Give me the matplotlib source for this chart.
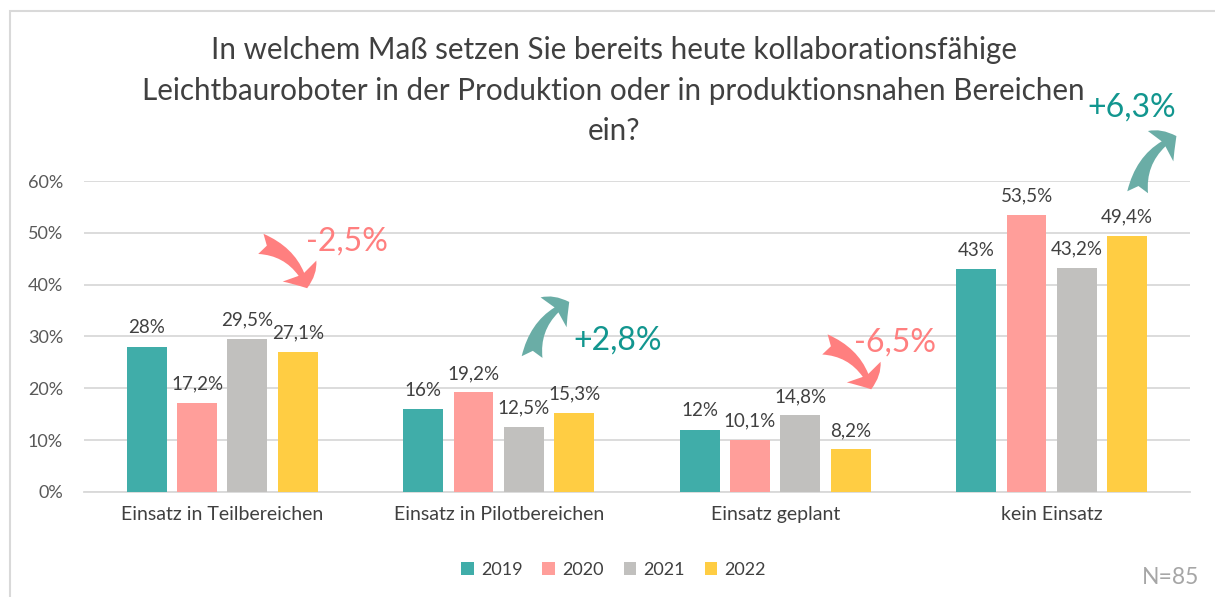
import matplotlib.pyplot as plt
from matplotlib.patches import FancyArrowPatch, Rectangle
import numpy as np

plt.rcParams["font.family"] = ["Lato", "DejaVu Sans"]

categories = ["Einsatz in Teilbereichen", "Einsatz in Pilotbereichen",
              "Einsatz geplant", "kein Einsatz"]
years = ["2019", "2020", "2021", "2022"]
v2019 = [28.0, 16.0, 12.0, 43.0]
v2020 = [17.2, 19.2, 10.1, 53.5]
v2021 = [29.5, 12.5, 14.8, 43.2]
v2022 = [27.1, 15.3, 8.2, 49.4]
series = [v2019, v2020, v2021, v2022]
colors = ["#40ADA9", "#FF9E9A", "#C1C0BE", "#FFCD43"]

# change 2021 -> 2022 per category
changes = ["-2,5%", "+2,8%", "-6,5%", "+6,3%"]

title_lines = ["In welchem Maß setzen Sie bereits heute kollaborationsfähige",
               "Leichtbauroboter in der Produktion oder in produktionsnahen Bereichen",
               "ein?"]


def fmt(v):
    s = f"{v:.1f}".replace(".", ",")
    return s[:-2] + "%" if s.endswith(",0") else s + "%"


fig = plt.figure(figsize=(12.15, 5.97), dpi=100)
ax = fig.add_axes([0.0691, 0.1759, 0.9103, 0.5209])

x = np.arange(len(categories))
bw = 0.144
step = 0.182
for i, (vals, c, yr) in enumerate(zip(series, colors, years)):
    pos = x + (i - 1.5) * step
    bars = ax.bar(pos, vals, bw, color=c, label=yr, zorder=3)
    for b, v in zip(bars, vals):
        ax.text(b.get_x() + b.get_width() / 2, v + 2.0, fmt(v),
                ha="center", va="bottom", fontsize=13.5, color="#404040")

ax.set_xlim(-0.5, 3.5)
ax.set_ylim(0, 60)
ax.set_yticks(range(0, 61, 10))
ax.set_yticklabels([f"{t}%" for t in range(0, 61, 10)])
ax.set_xticks(x)
ax.set_xticklabels(categories)
ax.tick_params(axis="y", length=0, labelsize=13, labelcolor="#595959", pad=15)
ax.tick_params(axis="x", length=0, labelsize=14, labelcolor="#404040", pad=10)
ax.grid(axis="y", color="#D9D9D9", lw=1.3, zorder=0)
for s in ["top", "right", "left"]:
    ax.spines[s].set_visible(False)
ax.spines["bottom"].set_color("#D9D9D9")
ax.spines["bottom"].set_linewidth(1.3)

# trend arrows with labels
red = "#FF7F7F"
teal_arrow = "#6AADA6"
teal_text = "#12968F"
arrows = [
    ((0.13, 48.0), (0.31, 38.8), red, changes[0], (0.45, 48.3), red),
    ((1.12, 25.5), (1.264, 36.9), teal_arrow, changes[1], (1.43, 29.3), teal_text),
    ((2.17, 28.6), (2.35, 19.3), red, changes[2], (2.433, 28.9), red),
    ((3.31, 57.3), (3.46, 68.9), teal_arrow, changes[3], (3.29, 74.1), teal_text),
]
for start, end, ac, lbl, tpos, tc in arrows:
    arr = FancyArrowPatch(start, end, connectionstyle="arc3,rad=-0.3",
                          arrowstyle="fancy,head_length=0.45,head_width=0.95,tail_width=0.5",
                          mutation_scale=30, color=ac, lw=0, clip_on=False, zorder=4)
    ax.add_patch(arr)
    ax.text(tpos[0], tpos[1], lbl, ha="center", va="center", fontsize=23,
            color=tc, clip_on=False)

for line, yc in zip(title_lines, [50, 91, 131]):
    fig.text(0.505, 1 - yc / 597, line, ha="center", va="center",
             fontsize=21.3, color="#404040")

fig.legend(loc="center", bbox_to_anchor=(0.505, 1 - 570 / 597), ncol=4,
           frameon=False, fontsize=13, handlelength=0.7, handleheight=0.7,
           handletextpad=0.4, columnspacing=1.1, labelcolor="#404040")

fig.text(1199 / 1215, 1 - 577 / 597, "N=85", ha="right", va="center",
         fontsize=16.5, color="#A6A6A6")

fig.patches.append(Rectangle((10 / 1215, -0.1), 1.2, 1.1 - 11 / 597,
                             transform=fig.transFigure, fill=False,
                             edgecolor="#D9D9D9", lw=1.5))

fig.savefig("out.png", dpi=100)
